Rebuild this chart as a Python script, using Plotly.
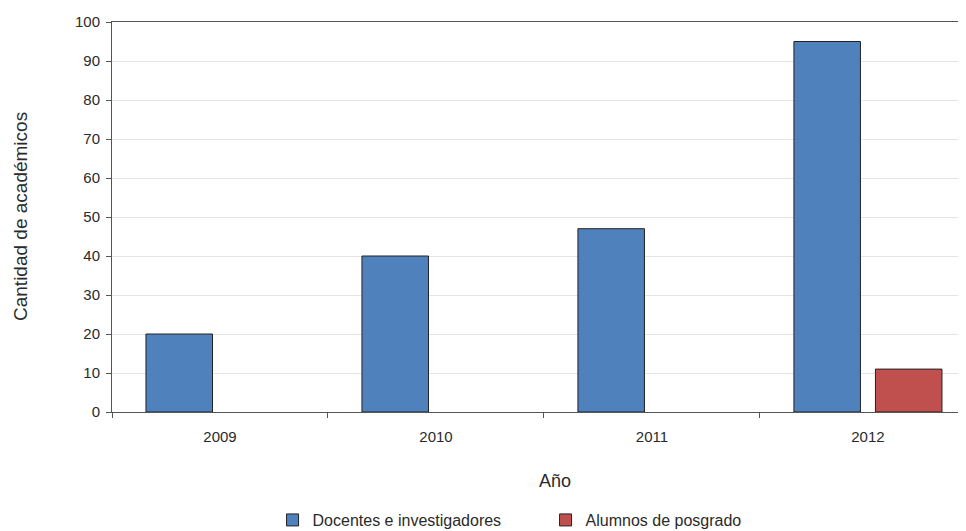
import plotly.graph_objects as go

years = ["2009", "2010", "2011", "2012"]
docentes = [20, 40, 47, 95]
alumnos = [None, None, None, 11]
y_ticks = [0, 10, 20, 30, 40, 50, 60, 70, 80, 90, 100]

FONT = "Liberation Sans, Arial, sans-serif"
TXT = "#2a2a2a"

fig = go.Figure()
fig.add_trace(go.Bar(
    x=years, y=docentes, name="Docentes e investigadores",
    marker=dict(color="#4F81BD", line=dict(color="#222222", width=1)),
))
fig.add_trace(go.Bar(
    x=years, y=alumnos, name="Alumnos de posgrado",
    marker=dict(color="#C0504D", line=dict(color="#222222", width=1)),
))

fig.update_layout(
    width=966, height=531,
    margin=dict(l=104, r=8, t=14, b=127, autoexpand=False),
    paper_bgcolor="white", plot_bgcolor="white",
    font=dict(family=FONT, size=15, color=TXT),
    barmode="group", bargap=0.245, bargroupgap=0.184,
    showlegend=True,
    legend=dict(
        orientation="h", x=0.188, xanchor="left", y=-0.277, yanchor="middle",
        font=dict(family=FONT, size=16, color=TXT),
        entrywidth=228, entrywidthmode="pixels",
        itemwidth=30, traceorder="normal",
    ),
    annotations=[
        dict(text="Año", xref="paper", yref="paper",
             x=(555 - 112) / 854, y=-(481 - 412) / 390,
             xanchor="center", yanchor="middle", showarrow=False,
             font=dict(family=FONT, size=18, color=TXT)),
        dict(text="Cantidad de académicos", xref="paper", yref="paper",
             x=-(112 - 20) / 854, y=0.5, textangle=-90,
             xanchor="center", yanchor="middle", showarrow=False,
             font=dict(family=FONT, size=19, color=TXT)),
    ],
)
fig.update_xaxes(
    type="category", range=[-0.5, 3.454], automargin=False,
    showline=True, linecolor="#555555", linewidth=1, mirror=True,
    ticks="outside", ticklen=5, tickcolor="#555555", tickson="boundaries",
    showgrid=False, tickfont=dict(size=15), ticklabelstandoff=11,
)
fig.update_yaxes(
    range=[0, 100], tickvals=y_ticks, automargin=False,
    showline=True, linecolor="#555555", linewidth=1,
    ticks="outside", ticklen=5, tickcolor="#555555",
    showgrid=True, gridcolor="#E4E4E4", gridwidth=1,
    zeroline=False, tickfont=dict(size=15), ticklabelstandoff=3,
)

fig.write_html("out.html")
